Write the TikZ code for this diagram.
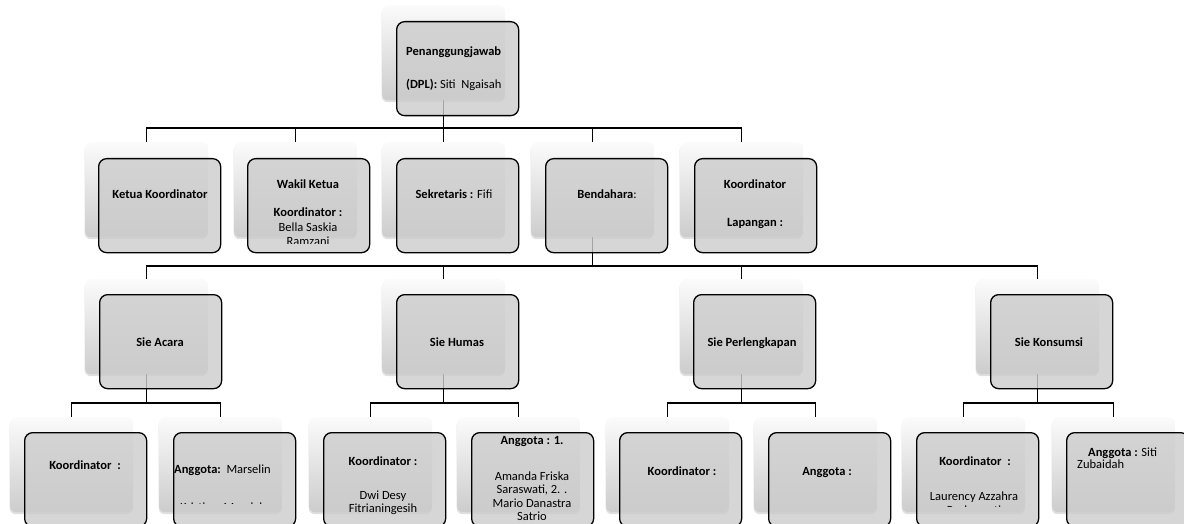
\documentclass[tikz,border=0pt]{standalone}
\usepackage{fontspec}
\setmainfont{Carlito}
\usetikzlibrary{shadows}
\pgfdeclarelayer{bg}
\pgfsetlayers{bg,main}
\begin{document}
\begin{tikzpicture}[x=1pt,y=-1pt,
  card/.style={rectangle, rounded corners=6pt, minimum width=123pt, minimum height=95pt, inner sep=0pt, anchor=north west,
    top color=gray!3, bottom color=gray!40, drop shadow={opacity=0.25, shadow xshift=-0.5pt, shadow yshift=-2pt}},
  fbox/.style={rectangle, rounded corners=8pt, draw=black, line width=1.3pt, fill=gray!40, fill opacity=0.8,
    minimum width=122pt, minimum height=94pt, inner sep=0pt, anchor=north west},
  conn/.style={line width=1.5pt, black},
  lbl/.style={inner sep=0pt, anchor=base, font=\fontsize{12.5}{13.5}\selectfont},
  lblw/.style={lbl, anchor=base west}
]
\useasboundingbox (0,0) rectangle (1184,524);
% ---------- cards (background) ----------
\node[card] (c0) at (382,5) {};
\node[card] (c11) at (85,142) {};
\node[card] (c12) at (234,142) {};
\node[card] (c13) at (382,142) {};
\node[card] (c14) at (531,142) {};
\node[card] (c15) at (680,142) {};
\node[card] (c21) at (85,279) {};
\node[card] (c22) at (382,279) {};
\node[card] (c23) at (680,279) {};
\node[card] (c24) at (976,279) {};
\node[card] (c31) at (10,417) {};
\node[card] (c32) at (159,417) {};
\node[card] (c33) at (309,417) {};
\node[card] (c34) at (457,417) {};
\node[card] (c35) at (606,417) {};
\node[card] (c36) at (754,417) {};
\node[card] (c37) at (902,417) {};
\node[card] (c38) at (1052,417) {};
% ---------- front boxes ----------
\node[fbox] (f0) at (396,21) {};
\node[fbox] (f11) at (98,158) {};
\node[fbox] (f12) at (247,158) {};
\node[fbox] (f13) at (396,158) {};
\node[fbox] (f14) at (545,158) {};
\node[fbox] (f15) at (694,158) {};
\node[fbox] (f21) at (99,294) {};
\node[fbox] (f22) at (396,294) {};
\node[fbox] (f23) at (693,294) {};
\node[fbox] (f24) at (990,294) {};
\node[fbox] (f31) at (24,432) {};
\node[fbox] (f32) at (173,432) {};
\node[fbox] (f33) at (323,432) {};
\node[fbox] (f34) at (471,432) {};
\node[fbox] (f35) at (619,432) {};
\node[fbox] (f36) at (768,432) {};
\node[fbox] (f37) at (916,432) {};
\node[fbox] (f38) at (1066,432) {};
% ---------- connectors ----------
\begin{pgfonlayer}{bg}
\coordinate (b1) at (0,128);
\coordinate (b2) at (0,266);
\coordinate (b3) at (0,403);
\foreach \c in {c11,c12,c13,c14,c15}
  \draw[conn] (c0.center) -- (c0.center |- b1) -| (\c.north);
\foreach \c in {c21,c22,c23,c24}
  \draw[conn] (c14.center) -- (c14.center |- b2) -| (\c.north);
\draw[conn] (c21.center) -- (c21.center |- b3) -| (c31.north);
\draw[conn] (c21.center) -- (c21.center |- b3) -| (c32.north);
\draw[conn] (c22.center) -- (c22.center |- b3) -| (c33.north);
\draw[conn] (c22.center) -- (c22.center |- b3) -| (c34.north);
\draw[conn] (c23.center) -- (c23.center |- b3) -| (c35.north);
\draw[conn] (c23.center) -- (c23.center |- b3) -| (c36.north);
\draw[conn] (c24.center) -- (c24.center |- b3) -| (c37.north);
\draw[conn] (c24.center) -- (c24.center |- b3) -| (c38.north);
\end{pgfonlayer}
% ---------- texts ----------
\node[lblw] (t0a) at (406,56) {\textbf{Penanggungjawab}};
\node[lblw] (t0b) at (406,89) {\textbf{(DPL):} Siti\ \ Ngaisah};
\node[lbl] (t11) at (160,199) {\textbf{Ketua Koordinator}};
\node[lbl] (t12a) at (308,189) {\textbf{Wakil Ketua}};
\begin{scope}
  \clip (247,150) rectangle (369,243);
  \node[lbl] (t12b) at (308,216) {\textbf{Koordinator :}};
  \node[lbl] (t12c) at (308,231) {Bella Saskia};
  \node[lbl] (t12d) at (308,245) {Ramzani};
\end{scope}
\node[lbl] (t13) at (454,199) {\textbf{Sekretaris :} Fifi};
\node[lbl] (t14) at (607,199) {\textbf{Bendahara}:};
\node[lbl] (t15a) at (755,189) {\textbf{Koordinator}};
\node[lbl] (t15b) at (755,226) {\textbf{Lapangan :}};
\node[lbl] (t21) at (160,346) {\textbf{Sie Acara}};
\node[lbl] (t22) at (457,346) {\textbf{Sie Humas}};
\node[lbl] (t23) at (752,346) {\textbf{Sie Perlengkapan}};
\node[lbl] (t24) at (1049,346) {\textbf{Sie Konsumsi}};
\node[lbl] (t31) at (85,469) {\textbf{Koordinator\ \ :}};
\node[lblw] (t32a) at (174,473) {\textbf{Anggota:}\ \ Marselin};
\begin{scope}
  \clip (173,430) rectangle (295,503);
  \node[lblw] (t32b) at (180,511) {Kristina\ \ Mandala};
\end{scope}
\node[lbl] (t33a) at (383,465) {\textbf{Koordinator :}};
\node[lbl] (t33b) at (383,499) {Dwi Desy};
\node[lbl] (t33c) at (383,512) {Fitrianingesih};
\node[lbl] (t34a) at (532,444) {\textbf{Anggota : 1.}};
\node[lbl] (t34b) at (532,480) {Amanda Friska};
\node[lbl] (t34c) at (532,493) {Saraswati, 2. .};
\node[lbl] (t34d) at (532,507) {Mario Danastra};
\node[lbl] (t34e) at (532,520) {Satrio};
\node[lbl] (t35) at (682,475) {\textbf{Koordinator :}};
\node[lbl] (t36) at (827,475) {\textbf{Anggota :}};
\node[lbl] (t37a) at (975,465) {\textbf{Koordinator\ \ :}};
\node[lbl] (t37b) at (974,500) {Laurency Azzahra};
\begin{scope}
  \clip (916,430) rectangle (1038,506);
  \node[lbl] (t37c) at (974,514) {Purbasanti};
\end{scope}
\node[lblw] (t38a) at (1088,456) {\textbf{Anggota :} Siti};
\node[lblw] (t38b) at (1077,468) {Zubaidah};
\end{tikzpicture}
\end{document}
